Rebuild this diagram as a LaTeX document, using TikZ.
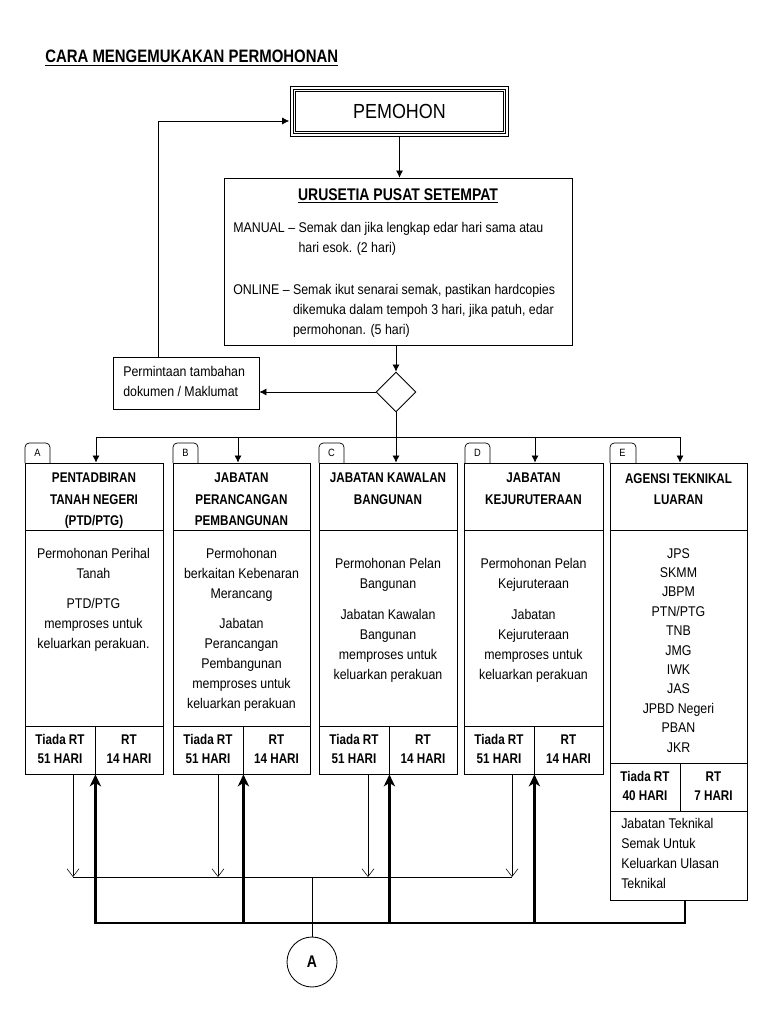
\documentclass[tikz,border=0pt]{standalone}
\usepackage{fontspec}
\setmainfont{Liberation Sans}[FakeStretch=0.88, BoldFeatures={FakeStretch=0.83}]
\usetikzlibrary{arrows.meta, positioning, shapes.geometric, fit}

\begin{document}
\begin{tikzpicture}[x=0.25mm, y=-0.25mm,
    box/.style={draw, line width=0.6pt, inner sep=0pt},
    txt/.style={font=\fontsize{10}{14.2}\selectfont, align=center, inner sep=0pt},
    hdr/.style={font=\fontsize{10}{15}\selectfont\bfseries, align=center, inner sep=0pt},
    rtxt/.style={font=\fontsize{10}{13.5}\selectfont\bfseries, align=center, inner sep=0pt, anchor=south},
    tabtxt/.style={font=\fontsize{7.5}{9}\selectfont, inner sep=0pt},
    arr/.style={-{Latex[length=5pt,width=5pt]}, line width=0.5pt},
    thinarr/.style={-{Straight Barb[length=5.5pt,width=8.5pt]}, line width=0.4pt},
    bus/.style={line width=2pt},
    busarr/.style={bus, -{Stealth[length=8.5pt,width=8pt,inset=2.5pt]}}]

  \useasboundingbox (0,0) rectangle (768,1024);

  % title
  \node[anchor=base west, inner sep=0pt, font=\fontsize{12.8}{15}\selectfont\bfseries] (ttl) at (45,63)
      {\underline{CARA MENGEMUKAKAN PERMOHONAN}};

  % applicant box with triple border
  \node[draw, double, line width=1pt, double distance=0.8pt, minimum width=53.75mm, minimum height=11.75mm,
        inner sep=0pt, font=\fontsize{14.5}{17}\selectfont] (pem) at (399.5,111.5) {PEMOHON};
  \draw[line width=0.5pt] ([shift={(4,-4)}]pem.south west) rectangle ([shift={(-4,4)}]pem.north east);

  % secretariat
  \node[box, fit={(224,178) (572,345)}] (uru) {};
  \node[anchor=north, inner sep=0pt, font=\fontsize{12}{14}\selectfont\bfseries] (urut) at (398,188)
      {\underline{URUSETIA PUSAT SETEMPAT}};
  \node[anchor=base west, inner sep=0pt, font=\fontsize{10}{14.2}\selectfont] (man) at (233,233)
      {\begin{tabular}[t]{@{}l@{ }l@{}}MANUAL –&Semak dan jika lengkap edar hari sama atau\\&hari esok. (2 hari)\end{tabular}};
  \node[anchor=base west, inner sep=0pt, font=\fontsize{10}{14.2}\selectfont] (onl) at (233,295)
      {\begin{tabular}[t]{@{}l@{ }l@{}}ONLINE –&Semak ikut senarai semak, pastikan hardcopies\\&dikemuka dalam tempoh 3 hari, jika patuh, edar\\&permohonan. (5 hari)\end{tabular}};

  % decision and request for more documents
  \node[diamond, draw, line width=0.6pt, minimum width=10mm, minimum height=10mm, inner sep=0pt] (dec) at (396,392) {};
  \node[box, fit={(113,357) (259,409)}] (req) {};
  \node[txt, align=left, anchor=north west] (reqt) at (123,366) {Permintaan tambahan\\dokumen / Maklumat};

  \coordinate (fbk) at (158,121);
  \draw[arr] (pem.south) -- (pem.south |- uru.north);
  \draw[arr] (uru.south -| dec.north) -- (dec.north);
  \draw[arr] (dec.west) -- (dec.west -| req.east);
  \draw[arr, shorten >=1.5pt] (req.north -| fbk) -- (fbk) -- (fbk -| pem.west);

  % department A
  \node[box, fit={(25,463) (163,530)}] (hA) {};
  \node[box, fit={(25,530) (163,726)}] (bA) {};
  \node[box, fit={(25,726) (95,774)}] (lA) {};
  \node[box, fit={(95,726) (163,774)}] (rA) {};
  \node[hdr, anchor=north] (thA) at (94,473) {PENTADBIRAN\\TANAH NEGERI\\(PTD/PTG)};
  \node[txt, anchor=north] (tbA) at (93.5,548) {Permohonan Perihal\\Tanah\\[7pt]PTD/PTG\\memproses untuk\\keluarkan perakuan.};
  \node[rtxt] (tlA) at (60,764) {Tiada RT\\51 HARI};
  \node[rtxt] (trA) at (129,764) {RT\\14 HARI};
  \node[tabtxt] (kA) at (37.5,453) {A};
  \draw[line width=0.5pt, rounded corners=3pt] (25,463) |- (50,443) -- (50,463);

  % department B
  \node[box, fit={(173,463) (310,530)}] (hB) {};
  \node[box, fit={(173,530) (310,726)}] (bB) {};
  \node[box, fit={(173,726) (243,774)}] (lB) {};
  \node[box, fit={(243,726) (310,774)}] (rB) {};
  \node[hdr, anchor=north] (thB) at (241.5,473) {JABATAN\\PERANCANGAN\\PEMBANGUNAN};
  \node[txt, anchor=north] (tbB) at (241.5,548) {Permohonan\\berkaitan Kebenaran\\Merancang\\[7pt]Jabatan\\Perancangan\\Pembangunan\\memproses untuk\\keluarkan perakuan};
  \node[rtxt] (tlB) at (208,764) {Tiada RT\\51 HARI};
  \node[rtxt] (trB) at (276.5,764) {RT\\14 HARI};
  \node[tabtxt] (kB) at (185.5,453) {B};
  \draw[line width=0.5pt, rounded corners=3pt] (173,463) |- (198,443) -- (198,463);

  % department C
  \node[box, fit={(319,463) (457,530)}] (hC) {};
  \node[box, fit={(319,530) (457,726)}] (bC) {};
  \node[box, fit={(319,726) (389,774)}] (lC) {};
  \node[box, fit={(389,726) (457,774)}] (rC) {};
  \node[hdr, anchor=north] (thC) at (388,473) {JABATAN KAWALAN\\BANGUNAN};
  \node[txt, anchor=north] (tbC) at (388,558) {Permohonan Pelan\\Bangunan\\[8pt]Jabatan Kawalan\\Bangunan\\memproses untuk\\keluarkan perakuan};
  \node[rtxt] (tlC) at (354,764) {Tiada RT\\51 HARI};
  \node[rtxt] (trC) at (423,764) {RT\\14 HARI};
  \node[tabtxt] (kC) at (331.5,453) {C};
  \draw[line width=0.5pt, rounded corners=3pt] (319,463) |- (344,443) -- (344,463);

  % department D
  \node[box, fit={(464,463) (603,530)}] (hD) {};
  \node[box, fit={(464,530) (603,726)}] (bD) {};
  \node[box, fit={(464,726) (534,774)}] (lD) {};
  \node[box, fit={(534,726) (603,774)}] (rD) {};
  \node[hdr, anchor=north] (thD) at (533.5,473) {JABATAN\\KEJURUTERAAN};
  \node[txt, anchor=north] (tbD) at (533.5,558) {Permohonan Pelan\\Kejuruteraan\\[8pt]Jabatan\\Kejuruteraan\\memproses untuk\\keluarkan perakuan};
  \node[rtxt] (tlD) at (499,764) {Tiada RT\\51 HARI};
  \node[rtxt] (trD) at (568.5,764) {RT\\14 HARI};
  \node[tabtxt] (kD) at (477.5,453) {D};
  \draw[line width=0.5pt, rounded corners=3pt] (465,463) |- (490,443) -- (490,463);

  % external technical agencies
  \node[box, fit={(610,463) (747,530)}] (hE) {};
  \node[box, fit={(610,530) (747,763)}] (bE) {};
  \node[box, fit={(610,763) (680,811)}] (lE) {};
  \node[box, fit={(680,763) (747,811)}] (rE) {};
  \node[box, fit={(610,811) (747,900)}] (nE) {};
  \node[hdr, anchor=north] (thE) at (678.5,473) {AGENSI TEKNIKAL\\LUARAN};
  \node[txt, font=\fontsize{10}{13.8}\selectfont, anchor=north] (tbE) at (678.5,548)
      {JPS\\SKMM\\JBPM\\PTN/PTG\\TNB\\JMG\\IWK\\JAS\\JPBD Negeri\\PBAN\\JKR};
  \node[rtxt] (tlE) at (645,801) {Tiada RT\\40 HARI};
  \node[rtxt] (trE) at (713.5,801) {RT\\7 HARI};
  \node[txt, align=left, anchor=north west] (tnE) at (621,818) {Jabatan Teknikal\\Semak Untuk\\Keluarkan Ulasan\\Teknikal};
  \node[tabtxt] (kE) at (622.5,453) {E};
  \draw[line width=0.5pt, rounded corners=3pt] (610,463) |- (636,443) -- (636,463);

  % split to the departments
  \coordinate (dA) at (96,437);
  \coordinate (dB) at (238,437);
  \coordinate (dC) at (396,437);
  \coordinate (dD) at (535,437);
  \coordinate (dE) at (680,437);
  \draw[line width=0.5pt] (dec.south) -- (dC);
  \draw[line width=0.5pt] (dA) -- (dE);
  \draw[arr] (dA) -- (dA |- hA.north);
  \draw[arr] (dB) -- (dB |- hB.north);
  \draw[arr] (dC) -- (dC |- hC.north);
  \draw[arr] (dD) -- (dD |- hD.north);
  \draw[arr] (dE) -- (dE |- hE.north);

  % thin lines down to connector A
  \coordinate (sA) at (73,877);
  \coordinate (sB) at (218,877);
  \coordinate (sC) at (368,877);
  \coordinate (sD) at (512,877);
  \draw[thinarr] (lA.south -| sA) -- (sA);
  \draw[thinarr] (lB.south -| sB) -- (sB);
  \draw[thinarr] (lC.south -| sC) -- (sC);
  \draw[thinarr] (lD.south -| sD) -- (sD);
  \draw[line width=0.4pt] (sA) -- (sD);
  \node[circle, draw, line width=0.6pt, minimum size=12.5mm, inner sep=0pt,
        font=\fontsize{12}{14}\selectfont\bfseries] (conA) at (312,962) {A};
  \draw[line width=0.4pt] (conA.north |- sA) -- (conA.north);

  % thick return line from technical agencies
  \coordinate (rtn) at (685,923);
  \draw[busarr] (nE.south -| rtn) -- (rtn) -| (lA.south east);
  \draw[busarr] (lB.south east |- rtn) -- (lB.south east);
  \draw[busarr] (lC.south east |- rtn) -- (lC.south east);
  \draw[busarr] (lD.south east |- rtn) -- (lD.south east);
\end{tikzpicture}
\end{document}
